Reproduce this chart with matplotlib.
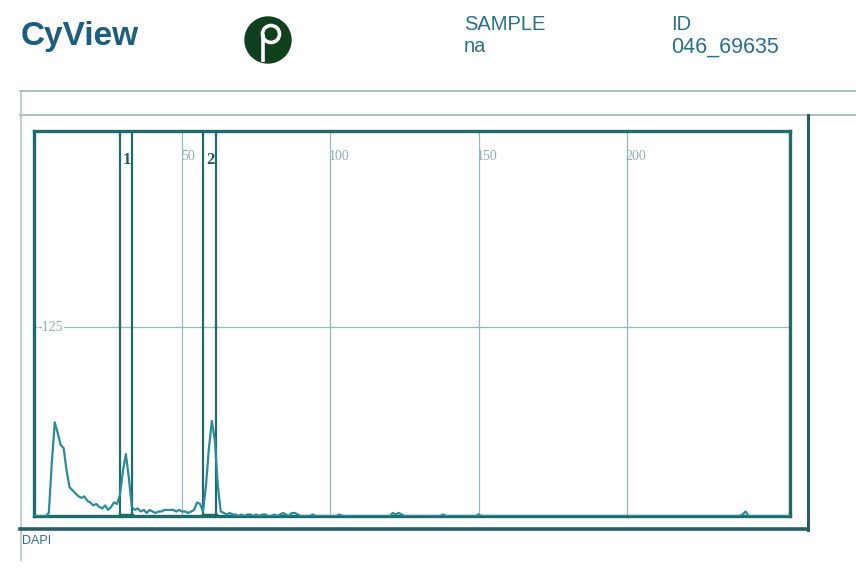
import numpy as np
import matplotlib.pyplot as plt
from matplotlib.patches import Ellipse, Circle

# DAPI histogram, counts per channel (0-255)
counts = [
    0, 0, 0, 0, 0, 2, 35, 62, 55, 47, 45, 30, 19, 17, 15, 13,
    12, 13, 10, 9, 7, 8, 6, 5, 7, 4, 6, 9, 8, 14, 30, 41,
    25, 6, 4, 5, 3, 4, 2, 4, 3, 2, 3, 3, 4, 4, 4, 4,
    3, 4, 3, 3, 2, 3, 4, 9, 8, 3, 20, 45, 63, 50, 20, 3,
    2, 1, 2, 1, 1, 0, 1, 0, 1, 1, 0, 1, 0, 1, 1, 0,
    0, 1, 0, 1, 2, 1, 0, 2, 2, 1, 0, 0, 0, 0, 1, 0,
    0, 0, 0, 0, 0, 0, 0, 1, 0, 0, 0, 0, 0, 0, 0, 0,
    0, 0, 0, 0, 0, 0, 0, 0, 0, 2, 1, 2, 1, 0, 0, 0,
    0, 0, 0, 0, 0, 0, 0, 0, 0, 0, 1, 0, 0, 0, 0, 0,
    0, 0, 0, 0, 0, 0, 1, 0, 0, 0, 0, 0, 0, 0, 0, 0,
    0, 0, 0, 0, 0, 0, 0, 0, 0, 0, 0, 0, 0, 0, 0, 0,
    0, 0, 0, 0, 0, 0, 0, 0, 0, 0, 0, 0, 0, 0, 0, 0,
    0, 0, 0, 0, 0, 0, 0, 0, 0, 0, 0, 0, 0, 0, 0, 0,
    0, 0, 0, 0, 0, 0, 0, 0, 0, 0, 0, 0, 0, 0, 0, 0,
    0, 0, 0, 0, 0, 0, 0, 0, 0, 0, 0, 0, 0, 0, 0, 0,
    0, 0, 0, 0, 0, 0, 0, 0, 0, 0, 0, 0, 0, 0, 0, 0,
]
counts[240] = 3
counts[239] = 1

x_grid = [50, 100, 150, 200]
y_grid = [125]
gates = {"1": (29, 33), "2": (57, 61.5)}

sample_name = "na"
sample_id = "046_69635"
param = "DAPI"

frame_col = "#1f6b6b"
curve_col = "#2a8c9a"
grid_col = "#93b9ba"
text_col = "#2a7088"

plt.rcParams['font.family'] = ['Liberation Sans', 'DejaVu Sans']

W, H = 856, 572
fig = plt.figure(figsize=(W / 100, H / 100), dpi=100)
fig.patch.set_facecolor("white")

# page layer in pixel units
page = fig.add_axes([0, 0, 1, 1], zorder=0)
page.set_xlim(0, W)
page.set_ylim(H, 0)
page.axis("off")

page.text(21, 37, "CyView", fontsize=24, fontweight="bold", color="#1d5e80",
          va="center", ha="left")

# logo
page.add_patch(Ellipse((268, 40), 46, 46, color="#10401e"))
page.add_patch(Circle((271, 34), 8.5, fill=False, ec="white", lw=2.6))
page.plot([263, 263], [34, 62], color="white", lw=2.6, solid_capstyle="butt")

page.text(464, 25, "SAMPLE", fontsize=14.5, color=text_col, va="center")
page.text(464, 47, sample_name, fontsize=14.5, color=text_col, va="center")
page.text(671, 25, "ID", fontsize=14.5, color=text_col, va="center")
page.text(671, 47, sample_id, fontsize=15.5, color=text_col, va="center")

page.plot([20, W], [91, 91], color="#9fb6b6", lw=1.2)
page.plot([20, W], [115, 115], color="#9fb6b6", lw=1.2)
page.plot([21, 21], [91, 560], color="#b5c6c6", lw=1.2)
page.plot([808, 808], [115, 530], color="#2a5d66", lw=2.2)
page.plot([20, 808], [529, 529], color="#2a5d66", lw=2.6)
page.text(22, 541, param, fontsize=9, color=text_col, va="center")

# histogram panel
ax = fig.add_axes([34 / W, 1 - 516 / H, 756 / W, 385 / H], zorder=1)
ch = np.arange(len(counts))
ax.set_xlim(0, 255)
ax.set_ylim(0, 255)
ax.set_xticks([])
ax.set_yticks([])
for s in ax.spines.values():
    s.set_color(frame_col)
    s.set_linewidth(2.4)

for gx in x_grid:
    ax.axvline(gx, color=grid_col, lw=0.9, zorder=1)
    ax.text(gx - 0.5, 238, str(gx), fontsize=10, color="#8fb0b0",
            family="Liberation Serif", va="center", ha="left", zorder=2)
for gy in y_grid:
    ax.axhline(gy, color=grid_col, lw=0.9, zorder=1)
    ax.text(1.2, gy, "-" + str(gy), fontsize=10, color="#8fb0b0",
            family="Liberation Serif", va="center", ha="left", zorder=2,
            bbox=dict(fc="white", ec="none", pad=0.5))

for name, (g0, g1) in gates.items():
    ax.axvline(g0, color=frame_col, lw=1.6, zorder=3)
    ax.axvline(g1, color=frame_col, lw=1.6, zorder=3)
    ax.plot([g0, g1], [0.8, 0.8], color=frame_col, lw=2.5, zorder=3)
    ax.text((g0 + g1) / 2 + 0.3, 236, name, fontsize=12, fontweight="bold",
            color="#1e5a66", family="Liberation Serif", ha="center",
            va="center", zorder=4)

ax.plot(ch, counts, color=curve_col, lw=1.6, zorder=5)

fig.savefig("out.png", dpi=100)
